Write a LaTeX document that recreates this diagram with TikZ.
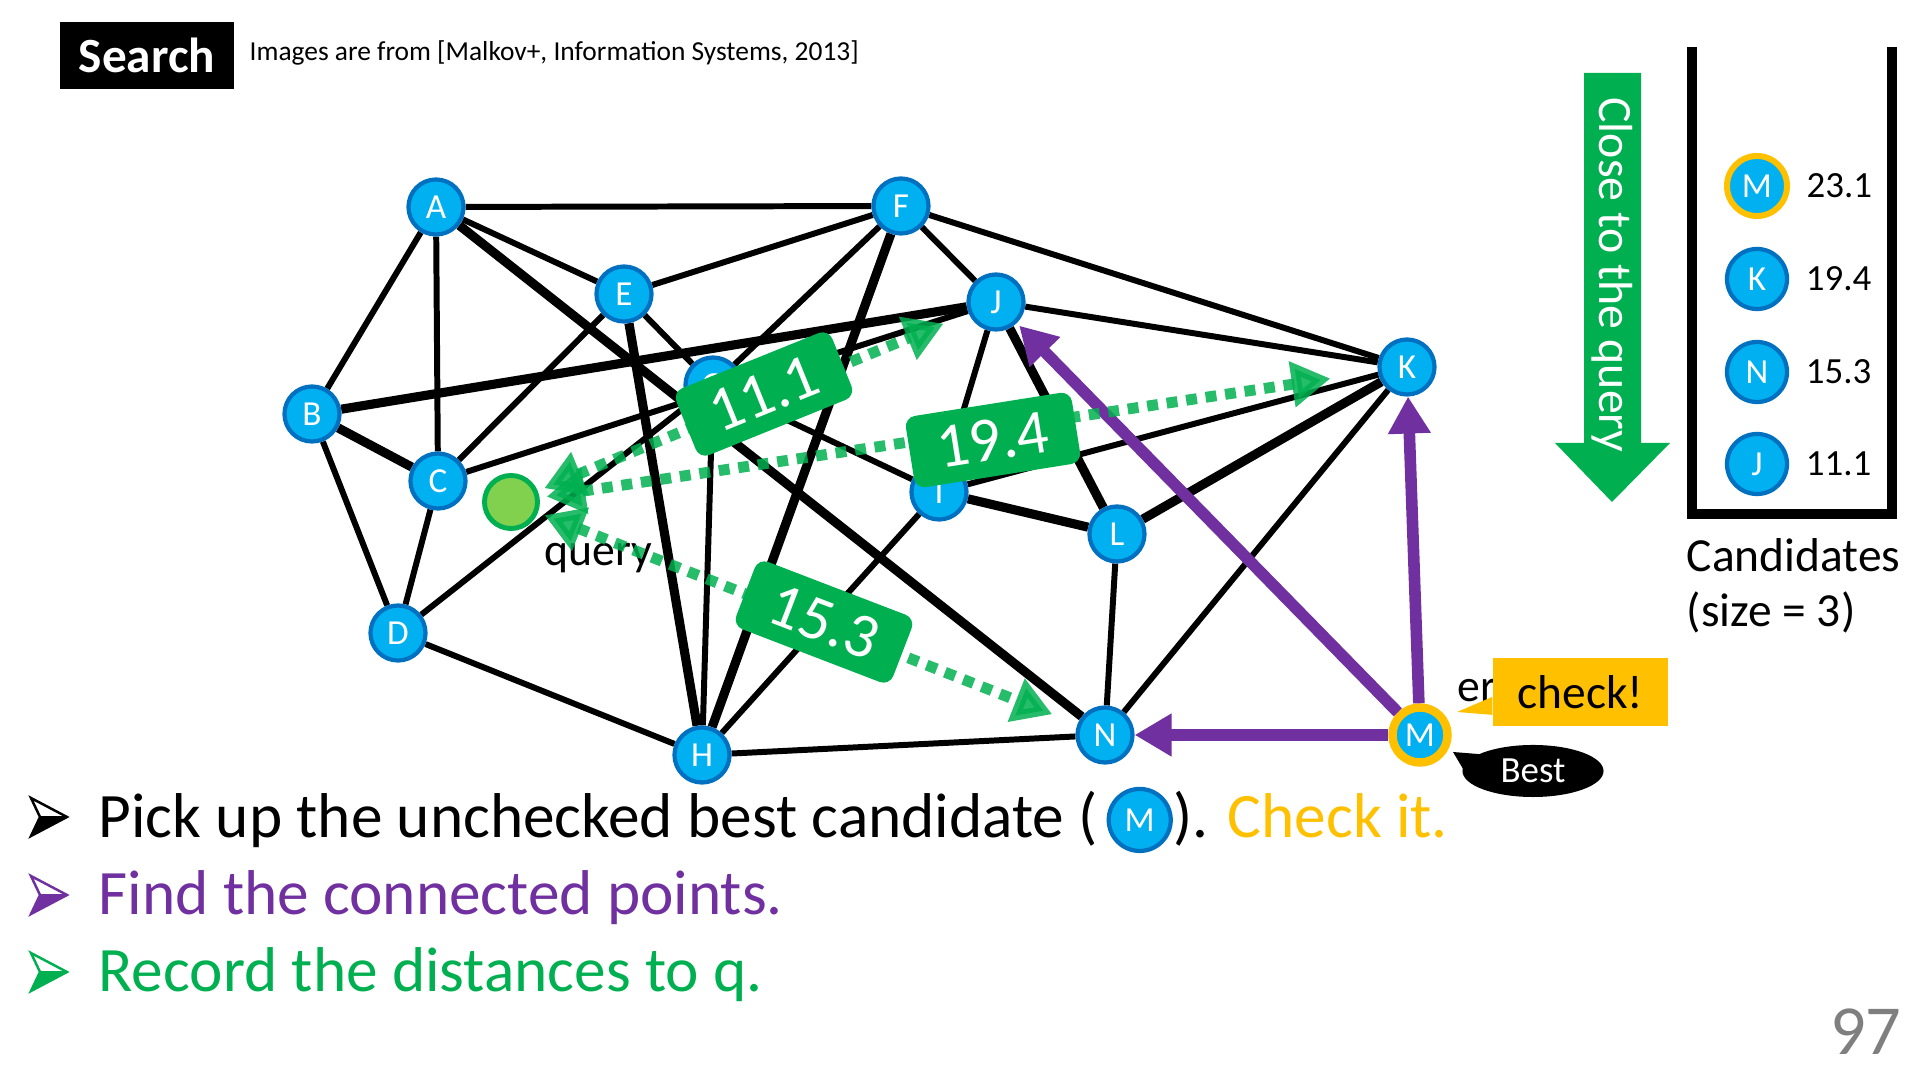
\documentclass[tikz,border=0pt]{standalone}
\usepackage{fontspec}
\setmainfont{Carlito}
\usetikzlibrary{arrows.meta,shapes.geometric,positioning}

\definecolor{nodeblue}{RGB}{0,176,240}
\definecolor{nodeedge}{RGB}{0,112,192}
\definecolor{qgreen}{RGB}{0,176,80}
\definecolor{qlight}{RGB}{129,209,79}
\definecolor{linkpurple}{RGB}{112,48,160}
\definecolor{checkorange}{RGB}{255,192,0}
\definecolor{pagegray}{RGB}{127,127,127}

\pgfdeclarelayer{bg}
\pgfsetlayers{bg,main}

\tikzset{
  vtx/.style={circle, fill=nodeblue, draw=nodeedge, line width=1.2pt, minimum size=0.55cm,
    inner sep=0pt, text=white, font=\fontsize{10}{12}\selectfont},
  bigvtx/.style={vtx, minimum size=0.6cm},
  bestvtx/.style={vtx, draw=checkorange, line width=2.4pt, minimum size=0.55cm},
  edge/.style={line width=1.7pt},
  thickedge/.style={line width=2.6pt},
  dist/.style={qgreen, opacity=0.85, line width=3.1pt, dash pattern=on 3.1pt off 2.5pt,
    {Triangle[length=11pt,width=12.5pt]}-{Triangle[length=11pt,width=12.5pt]}},
  distlabel/.style={fill=qgreen, rounded corners=3pt, text=white, font=\fontsize{18}{20}\selectfont,
    minimum width=1.68cm, minimum height=0.72cm, inner sep=0pt},
  hop/.style={linkpurple, line width=3.3pt, -{Triangle[length=10.5pt,width=11.5pt]}},
  bigtext/.style={anchor=base west, inner sep=0pt, font=\fontsize{18}{21.6}\selectfont},
  midtext/.style={anchor=base west, inner sep=0pt, font=\fontsize{13.5}{16}\selectfont},
}

% bullet arrow: colour, left-centre point
\newcommand{\bularrow}[2]{%
  \begin{scope}[shift={#2}]
    \fill[#1] (9,0) -- (36,0) -- (0,19) -- cycle;
    \draw[#1, line width=0.7pt, line join=miter] (0,-19) -- (36,0) -- (0,19) -- (9,0) -- cycle;
    \draw[#1, line width=0.7pt] (9,0) -- (36,0);
  \end{scope}}

\begin{document}
\begin{tikzpicture}[x=0.01cm, y=-0.01cm]
  \useasboundingbox (0,0) rectangle (1920,1080);

  % header
  \node[fill=black, text=white, font=\fontsize{14}{16}\selectfont\bfseries,
    minimum width=1.74cm, minimum height=0.67cm] (srch) at (147,55.5) {Search};
  \node[anchor=base west, inner sep=0pt, font=\fontsize{7.8}{9}\selectfont] (src) at (249,61)
    {Images are from [Malkov+, Information Systems, 2013]};

  % graph nodes
  \node[vtx] (A) at (436,207) {A};
  \node[vtx] (B) at (312,414) {B};
  \node[vtx] (C) at (438,481) {C};
  \node[vtx] (D) at (398,633) {D};
  \node[vtx] (E) at (624,294) {E};
  \node[vtx] (F) at (901,206) {F};
  \node[vtx] (G) at (713,385) {G};
  \node[vtx] (H) at (702,755) {H};
  \node[vtx] (I) at (939,492) {I};
  \node[vtx] (J) at (996,302) {J};
  \node[vtx] (K) at (1407,367) {K};
  \node[vtx] (L) at (1117,534) {L};
  \node[vtx] (N) at (1105,735) {N};
  \node[bestvtx] (M) at (1420,735) {M};
  \node[circle, fill=qlight, draw=qgreen, line width=1.4pt, minimum size=0.53cm] (q) at (511,502) {};
  \node[midtext, font=\fontsize{13}{15}\selectfont] (qlab) at (544,566) {query};

  % edges
  \begin{pgfonlayer}{bg}
    \foreach \a/\b in {A/F, A/E, A/B, A/C, B/D, C/D, C/E, C/J, D/G, D/H, E/F, E/G, F/G, F/J, F/K,
                       G/H, G/I, H/I, H/N, I/J, I/K, J/K, K/N, L/N}
      \draw[edge] (\a) -- (\b);
    \foreach \a/\b in {A/N, B/J, B/C, E/H, F/H, I/L, J/L, K/L}
      \draw[thickedge] (\a) -- (\b);
  \end{pgfonlayer}

  % neighbours of M
  \draw[hop] (M) -- (N);
  \draw[hop] (M) -- (K);
  \draw[hop, shorten >=1pt] (M) -- (J);

  % distances to the query
  \draw[dist, shorten <=2pt, shorten >=7.7pt] (q) -- (J);
  \draw[dist, shorten <=2pt, shorten >=13.6pt] (q) -- (K);
  \draw[dist, shorten <=2pt, shorten >=7.7pt] (q) -- (N);
  \node[distlabel, rotate=22] (dJ) at (764,394) {11.1};
  \node[distlabel, rotate=9] (dK) at (993,440) {19.4};
  \node[distlabel, rotate=-21] (dN) at (824,622) {15.3};

  % callouts at M
  \node[midtext, font=\fontsize{13}{15}\selectfont] (er) at (1457,702) {er};
  \node[fill=checkorange, minimum width=1.75cm, minimum height=0.67cm, inner sep=0pt,
    font=\fontsize{13.5}{16}\selectfont] (chk) at (1580.5,692) {check!};
  \fill[checkorange] ([yshift=-1.4pt]chk.west) -- (1457,712) -- ([yshift=-6.5pt]chk.west) -- cycle;
  \node[ellipse, fill=black, text=white, minimum width=1.41cm, minimum height=0.52cm, inner sep=0pt,
    font=\fontsize{10.5}{12}\selectfont] (bst) at (1533,771) {Best};
  \fill (1453,752) -- (1490,755) -- (1472,784) -- cycle;

  % close to the query
  \fill[qgreen] (1584,73) -- (1641,73) -- (1641,443) -- (1670,443) -- (1612,502)
    -- (1555,443) -- (1584,443) -- cycle;
  \node[rotate=-90, text=white, font=\fontsize{13.6}{16}\selectfont] (close) at (1612,275) {Close to the query};

  % candidates
  \draw[line width=2.8pt] (1692,47) -- (1692,514) -- (1892,514) -- (1892,47);
  \node[bigvtx, draw=checkorange, line width=1.7pt] (cM) at (1757,186) {M};
  \node[bigvtx] (cK) at (1757,279) {K};
  \node[bigvtx] (cN) at (1757,372) {N};
  \node[bigvtx] (cJ) at (1757,464) {J};
  \foreach \c/\v in {cM/23.1, cK/19.4, cN/15.3, cJ/11.1}
    \node[right=0.16cm of \c, inner sep=0pt, font=\fontsize{10.5}{12}\selectfont] (v\c) {\v};
  \node[midtext] (cand) at (1686,572) {Candidates};
  \node[midtext] (csize) at (1686,627) {(size = 3)};

  % bullets
  \bularrow{black}{(31,817)}
  \bularrow{linkpurple}{(31,895)}
  \bularrow{qgreen}{(31,972)}
  \node[bigtext] (pick) at (98,838) {Pick up the unchecked best candidate (};
  \node[bigvtx, minimum size=0.62cm, right=0.08cm of pick] (pickM) {M};
  \node[bigtext] (pickrest) at (pickM.east |- pick.base) {). \textcolor{checkorange}{Check it.}};
  \node[bigtext, text=linkpurple] (find) at (98,915) {Find the connected points.};
  \node[bigtext, text=qgreen] (rec) at (98,992) {Record the distances to q.};

  \node[anchor=base east, inner sep=0pt, text=pagegray, font=\fontsize{20}{22}\selectfont] (pg) at (1902,1055) {97};
\end{tikzpicture}
\end{document}
